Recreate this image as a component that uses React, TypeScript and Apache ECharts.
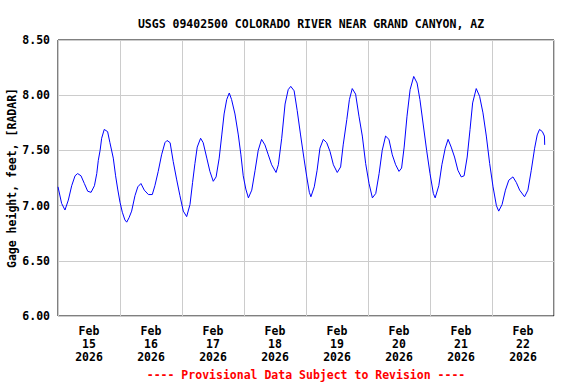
import React, { useEffect, useRef } from "react";
import * as echarts from "echarts";

const TITLE = "USGS 09402500 COLORADO RIVER NEAR GRAND CANYON, AZ";
const Y_NAME = "Gage height, feet, [RADAR]";
const FOOTNOTE = "---- Provisional Data Subject to Revision ----";

const dayLabels = ["Feb\n15\n2026", "Feb\n16\n2026", "Feb\n17\n2026", "Feb\n18\n2026", "Feb\n19\n2026", "Feb\n20\n2026", "Feb\n21\n2026", "Feb\n22\n2026"];

// hours since Feb 15 2026 00:00
const hours = [
  0, 1.4, 2.7, 4.0, 5.3, 6.6, 7.6, 8.9, 10.2, 11.5, 12.8, 14.1, 15.0, 15.6, 16.3, 16.9, 17.9, 19.2, 20.1, 21.4,
  22.3, 23.1, 24.0, 24.9, 25.9, 26.6, 27.5, 28.5, 29.8, 30.9, 32.1, 33.4, 35.0, 36.5, 37.5, 38.8, 40.1, 41.4, 42.2, 43.4,
  44.6, 45.9, 47.2, 48.5, 49.8, 51.1, 52.1, 53.0, 53.9, 55.2, 56.2, 57.6, 58.8, 60.1, 61.2, 62.4, 63.4, 64.3, 65.3, 66.3,
  67.2, 68.5, 69.8, 70.8, 71.7, 72.7, 73.7, 75.0, 76.3, 77.5, 78.8, 80.1, 81.4, 82.7, 84.4, 85.3, 86.6, 87.9, 89.1, 90.1,
  91.4, 92.6, 93.9, 95.2, 96.3, 97.3, 97.9, 99.2, 100.3, 101.4, 102.7, 104.0, 105.3, 106.6, 108.1, 109.4, 110.4, 111.8, 112.8, 113.9,
  115.2, 116.5, 117.8, 119.1, 120.4, 121.7, 123.0, 124.3, 125.5, 126.8, 128.1, 129.4, 130.7, 132.0, 133.0, 134.0, 135.1, 136.3, 137.7, 139.0,
  140.1, 141.4, 142.7, 144.0, 145.3, 146.0, 147.4, 148.6, 149.9, 151.0, 152.2, 153.5, 154.8, 156.1, 157.2, 158.4, 159.5, 160.5, 161.9, 163.2,
  164.5, 165.8, 167.1, 168.4, 169.7, 170.6, 171.9, 173.2, 174.5, 176.1, 177.4, 178.7, 180.6, 181.9, 183.2, 184.5, 185.5, 186.4, 187.5, 188.3,
  188.4,
];

const gage = [
  7.17, 7.02, 6.96, 7.05, 7.18, 7.27, 7.29, 7.27, 7.20, 7.13, 7.12, 7.18, 7.29, 7.41, 7.50, 7.61, 7.69, 7.67, 7.57, 7.43,
  7.27, 7.15, 7.03, 6.94, 6.87, 6.85, 6.89, 6.95, 7.09, 7.17, 7.20, 7.14, 7.10, 7.10, 7.18, 7.31, 7.46, 7.57, 7.59, 7.57,
  7.40, 7.24, 7.09, 6.95, 6.90, 7.01, 7.21, 7.38, 7.53, 7.61, 7.57, 7.43, 7.31, 7.22, 7.26, 7.43, 7.64, 7.83, 7.96, 8.02,
  7.96, 7.83, 7.64, 7.46, 7.27, 7.15, 7.07, 7.14, 7.32, 7.50, 7.60, 7.55, 7.46, 7.37, 7.30, 7.37, 7.61, 7.92, 8.05, 8.08,
  8.04, 7.86, 7.64, 7.43, 7.26, 7.12, 7.08, 7.17, 7.32, 7.52, 7.60, 7.57, 7.49, 7.37, 7.30, 7.35, 7.55, 7.78, 7.96, 8.06,
  8.01, 7.81, 7.63, 7.38, 7.20, 7.07, 7.11, 7.29, 7.50, 7.63, 7.60, 7.46, 7.37, 7.31, 7.34, 7.53, 7.81, 8.05, 8.17, 8.11,
  7.96, 7.73, 7.50, 7.29, 7.11, 7.07, 7.18, 7.37, 7.52, 7.60, 7.53, 7.44, 7.32, 7.26, 7.27, 7.44, 7.69, 7.93, 8.06, 7.99,
  7.84, 7.63, 7.38, 7.17, 7.00, 6.95, 7.01, 7.14, 7.23, 7.26, 7.21, 7.14, 7.08, 7.14, 7.32, 7.52, 7.64, 7.69, 7.67, 7.63,
  7.55,
];

const FONT = "'DejaVu Sans Mono', 'Liberation Mono', monospace";

export default function App() {
  const ref = useRef<HTMLDivElement>(null);
  useEffect(() => {
    if (!ref.current) return;
    const chart = echarts.init(ref.current, null, { renderer: "svg" });
    const data = hours.map((h, i) => [h, gage[i]]);
    chart.setOption({
      animation: false,
      backgroundColor: "#ffffff",
      grid: {
        left: 58,
        right: 22,
        top: 40,
        bottom: 68,
        show: true,
        borderColor: "#000000",
        borderWidth: 1,
        backgroundColor: "transparent",
      },
      title: {
        text: TITLE,
        left: 306,
        top: 13,
        textAlign: "center",
        textStyle: { fontFamily: FONT, fontSize: 11.5, fontWeight: "bold", color: "#000" },
      },
      graphic: [
        {
          type: "text",
          x: 12,
          y: 178,
          rotation: Math.PI / 2,
          style: {
            text: Y_NAME,
            fontFamily: FONT,
            fontSize: 11.5,
            fontWeight: "bold",
            fill: "#000",
            align: "center",
            verticalAlign: "middle",
          },
        },
        {
          type: "text",
          x: 306,
          y: 375,
          style: {
            text: FOOTNOTE,
            fontFamily: FONT,
            fontSize: 11.5,
            fontWeight: "bold",
            fill: "#ff0000",
            align: "center",
            verticalAlign: "middle",
          },
        },
      ],
      xAxis: [
        {
          type: "value",
          min: 0,
          max: 192,
          show: false,
        },
        {
          type: "category",
          data: dayLabels,
          boundaryGap: true,
          position: "bottom",
          axisLine: { show: false },
          axisTick: { show: false },
          axisLabel: {
            fontFamily: FONT,
            fontSize: 11.5,
            fontWeight: "bold",
            color: "#000",
            lineHeight: 13,
            margin: 8,
            interval: 0,
          },
          splitLine: { show: true, lineStyle: { color: "#cccccc", width: 1 } },
        },
      ],
      yAxis: {
        type: "value",
        min: 6,
        max: 8.5,
        interval: 0.5,
        axisLine: { show: false },
        axisTick: { show: false },
        axisLabel: {
          formatter: (v: number) => v.toFixed(2),
          fontFamily: FONT,
          fontSize: 11.5,
          fontWeight: "bold",
          color: "#000",
          margin: 8,
        },
        splitLine: { show: true, lineStyle: { color: "#cccccc", width: 1 } },
      },
      series: [
        {
          type: "line",
          xAxisIndex: 0,
          data,
          showSymbol: false,
          symbol: "none",
          lineStyle: { color: "#0000ff", width: 1 },
          itemStyle: { color: "#0000ff" },
          z: 3,
        },
      ],
    });
    return () => chart.dispose();
  }, []);
  return <div ref={ref} style={{ position: "absolute", left: 0, top: 0, width: 576, height: 384 }} />;
}
